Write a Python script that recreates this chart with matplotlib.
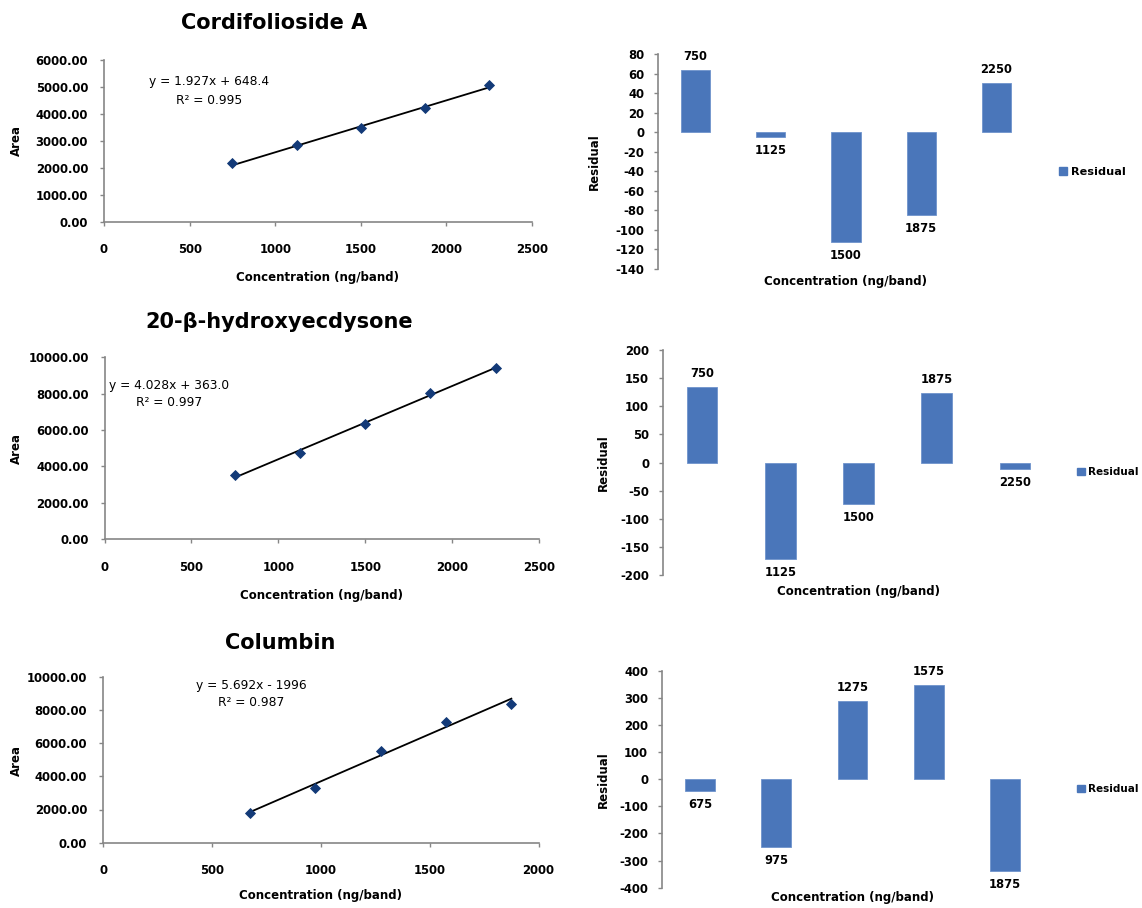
import matplotlib
matplotlib.use("Agg")
import matplotlib.pyplot as plt
from matplotlib.ticker import FormatStrFormatter, MultipleLocator
from matplotlib.patches import Patch

plt.rcParams["font.family"] = ["DejaVu Sans"]
plt.rcParams["axes.unicode_minus"] = False

# ---- calibration data -------------------------------------------------------
titles = ["Cordifolioside A", "20-β-hydroxyecdysone", "Columbin"]

cordifolioside_conc = [750, 1125, 1500, 1875, 2250]
cordifolioside_area = [2160, 2830, 3460, 4225, 5080]
cordifolioside_resid = [64, -5, -112, -85, 51]
cordifolioside_fit = (1.927, 648.4, 0.995)

ecdysone_conc = [750, 1125, 1500, 1875, 2250]
ecdysone_area = [3520, 4720, 6350, 8060, 9420]
ecdysone_resid = [134, -172, -73, 124, -12]
ecdysone_fit = (4.028, 363.0, 0.997)

columbin_conc = [675, 975, 1275, 1575, 1875]
columbin_area = [1790, 3290, 5545, 7300, 8337]
columbin_resid = [-45, -251, 287, 346, -340]
columbin_fit = (5.692, -1996, 0.987)

equation_labels = ["y = 1.927x + 648.4", "y = 4.028x + 363.0", "y = 5.692x - 1996"]
r2_labels = ["R² = 0.995", "R² = 0.997", "R² = 0.987"]

# ---- layout helpers (pixel units on a 1142 x 908 canvas) ---------------------
W, H = 1142, 908
fig = plt.figure(figsize=(W / 100, H / 100), dpi=100)


def rect(left, top, right, bottom):
    return [left / W, 1 - bottom / H, (right - left) / W, (bottom - top) / H]


def ftext(x, y, s, **kw):
    return fig.text(x / W, 1 - y / H, s, **kw)


AXIS_GREY = "#868686"
BAR_BLUE = "#4A76BA"
MARKER_NAVY = "#133A78"


def style_axes(ax):
    for side in ("top", "right"):
        ax.spines[side].set_visible(False)
    for side in ("left", "bottom"):
        ax.spines[side].set_color(AXIS_GREY)
        ax.spines[side].set_linewidth(1.2)
    ax.tick_params(colors=AXIS_GREY, labelcolor="black", length=3, width=1.0,
                   direction="out")
    for lab in ax.get_xticklabels() + ax.get_yticklabels():
        lab.set_fontweight("bold")
        lab.set_fontsize(8.4)


def calibration_panel(box, conc, area, fit, xmax, ymax, ystep, eq, r2, eq_xy,
                      title, title_xy, xlabel_y, ylabel_y):
    ax = fig.add_axes(rect(*box))
    slope, intercept, _ = fit
    x0, x1 = min(conc), max(conc)
    ax.plot([x0, x1], [slope * x0 + intercept, slope * x1 + intercept],
            color="black", lw=1.3, zorder=2)
    ax.plot(conc, area, linestyle="none", marker="D", ms=5.6,
            color=MARKER_NAVY, mec=MARKER_NAVY, mew=0.6, zorder=3)
    ax.set_xlim(0, xmax)
    ax.set_ylim(0, ymax)
    ax.xaxis.set_major_locator(MultipleLocator(500))
    ax.yaxis.set_major_locator(MultipleLocator(ystep))
    ax.yaxis.set_major_formatter(FormatStrFormatter("%.2f"))
    ax.tick_params(axis="x", pad=12.5)
    ax.tick_params(axis="y", pad=8.5)
    style_axes(ax)
    ftext(eq_xy[0], eq_xy[1], eq, ha="center", va="center", fontsize=8.8)
    ftext(eq_xy[0], eq_xy[1] + 18, r2, ha="center", va="center", fontsize=8.8)
    ftext(title_xy[0], title_xy[1], title, ha="center", va="center",
          fontsize=15, fontweight="bold")
    cx = (box[0] + box[2]) / 2
    ftext(cx, xlabel_y, "Concentration (ng/band)", ha="center", va="center",
          fontsize=8.5, fontweight="bold")
    ftext(16, ylabel_y, "Area", ha="center", va="center", rotation=90,
          fontsize=8.5, fontweight="bold")
    return ax


def residual_panel(box, conc, resid, ymin, ymax, ystep, legend_xy, legend_size,
                   ylabel_x, xlabel_y):
    ax = fig.add_axes(rect(*box))
    idx = list(range(len(conc)))
    ax.bar(idx, resid, width=0.39, color=BAR_BLUE, edgecolor="#6F93CC",
           linewidth=0.6, zorder=2)
    for i, (c, r) in enumerate(zip(conc, resid)):
        off = 5 if r >= 0 else -5
        ax.annotate(str(c), (i, r), xytext=(0, off), textcoords="offset points",
                    ha="center", va="bottom" if r >= 0 else "top",
                    fontsize=8.3, fontweight="bold")
    ax.set_xlim(-0.5, len(conc) - 0.5)
    ax.set_ylim(ymin, ymax)
    ax.yaxis.set_major_locator(MultipleLocator(ystep))
    ax.spines["bottom"].set_visible(False)
    ax.tick_params(axis="x", bottom=False, labelbottom=False)
    ax.tick_params(axis="y", pad=7)
    style_axes(ax)
    cx = (box[0] + box[2]) / 2
    cy = (box[1] + box[3]) / 2
    ftext(cx, xlabel_y, "Concentration (ng/band)", ha="center", va="center",
          fontsize=8.5, fontweight="bold")
    ftext(ylabel_x, cy, "Residual", ha="center", va="center", rotation=90,
          fontsize=8.5, fontweight="bold")
    handle = Patch(facecolor=BAR_BLUE, edgecolor=BAR_BLUE)
    ax.legend([handle], ["Residual"], loc="center left",
              bbox_to_anchor=(legend_xy[0] / W, 1 - legend_xy[1] / H),
              bbox_transform=fig.transFigure, frameon=False,
              handlelength=0.75, handleheight=0.75, handletextpad=0.35,
              borderpad=0, borderaxespad=0,
              prop={"size": legend_size, "weight": "bold"})
    return ax


# ---- Cordifolioside A ---------------------------------------------------------
calibration_panel((104, 60, 532, 221.7), cordifolioside_conc, cordifolioside_area,
                  cordifolioside_fit, 2500, 6000, 1000,
                  equation_labels[0], r2_labels[0], (209, 82),
                  titles[0], (274, 23), 278, 141)
residual_panel((658, 54.3, 1034, 269), cordifolioside_conc, cordifolioside_resid,
               -140, 80, 20, (1059, 172), 8.1, 594, 281)

# ---- 20-β-hydroxyecdysone ------------------------------------------------------
calibration_panel((104.6, 357.3, 539, 539), ecdysone_conc, ecdysone_area,
                  ecdysone_fit, 2500, 10000, 2000,
                  equation_labels[1], r2_labels[1], (169, 385),
                  titles[1], (279, 322), 595, 448)
residual_panel((663, 350, 1054, 575), ecdysone_conc, ecdysone_resid,
               -200, 200, 50, (1077, 472), 7.5, 603, 592)

# ---- Columbin ------------------------------------------------------------------
calibration_panel((103, 676.7, 538.6, 842.7), columbin_conc, columbin_area,
                  columbin_fit, 2000, 10000, 2000,
                  equation_labels[2], r2_labels[2], (251, 685),
                  titles[2], (280, 643), 895, 760)
residual_panel((662, 670.7, 1043, 887.7), columbin_conc, columbin_resid,
               -400, 400, 100, (1077, 789), 7.5, 603, 898)

fig.savefig("out.png", dpi=100, facecolor="white")
